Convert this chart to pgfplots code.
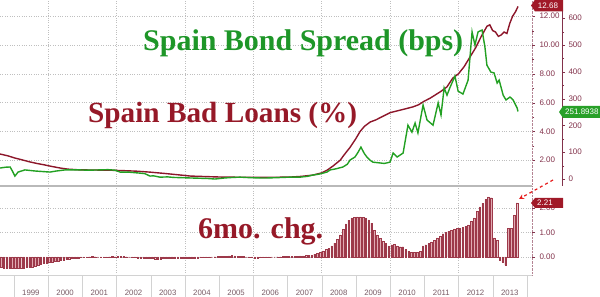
\documentclass[border=0pt]{standalone}
\usepackage{pgfplots}
\pgfplotsset{compat=1.18}
\usepackage{pgfplotstable}
\usepackage{fontspec}
\setmainfont{Liberation Sans}
\newfontfamily\titlefont{Liberation Serif}
\usetikzlibrary{arrows.meta}

\definecolor{loanred}{RGB}{140,22,42}
\definecolor{spgreen}{RGB}{34,160,34}
\definecolor{titlegreen}{RGB}{30,150,40}
\definecolor{titlered}{RGB}{150,25,40}
\definecolor{labred}{RGB}{130,50,75}
\definecolor{boxred}{RGB}{160,25,40}
\definecolor{boxgreen}{RGB}{40,160,40}
\definecolor{barfill}{RGB}{225,170,178}
\definecolor{yrgray}{RGB}{120,90,100}
\definecolor{arrred}{RGB}{230,30,30}

% 6-month change in bad loans, monthly from Aug 1998 to Sep 2013
\pgfplotstableread[row sep=\\]{
d\\
-0.42\\-0.44\\-0.45\\-0.46\\-0.45\\-0.44\\-0.44\\-0.45\\-0.44\\-0.43\\-0.42\\-0.41\\
-0.38\\-0.33\\-0.30\\-0.27\\-0.25\\
-0.22\\-0.20\\-0.18\\-0.16\\-0.14\\-0.12\\
-0.09\\-0.07\\-0.05\\-0.04\\-0.03\\-0.02\\
-0.02\\-0.01\\0.01\\0.02\\0.01\\0\\-0.01\\-0.02\\-0.01\\0.01\\0.02\\0.01\\
0.02\\0.03\\0.02\\0.01\\0\\-0.01\\-0.02\\-0.03\\-0.04\\-0.05\\-0.06\\-0.06\\
-0.06\\-0.07\\-0.07\\-0.07\\-0.06\\-0.06\\-0.06\\-0.05\\-0.05\\-0.05\\-0.05\\-0.04\\
-0.04\\-0.04\\-0.03\\-0.03\\-0.03\\-0.02\\-0.02\\-0.01\\-0.01\\0\\0.01\\0.02\\
0.02\\0.03\\0.04\\0.05\\0.06\\0.05\\0.04\\0.03\\0.02\\0\\-0.01\\-0.02\\
-0.03\\-0.03\\-0.02\\-0.02\\-0.01\\-0.01\\0\\0\\0.01\\0.01\\0.02\\0.03\\
0.03\\0.03\\0.04\\0.04\\0.05\\0.05\\0.06\\0.07\\0.08\\0.12\\0.16\\0.20\\
0.25\\0.30\\0.36\\0.45\\0.57\\0.72\\0.90\\1.12\\1.35\\1.50\\1.60\\1.63\\
1.64\\1.64\\1.62\\1.60\\1.52\\1.38\\1.10\\0.90\\0.75\\0.65\\0.57\\0.45\\
0.50\\0.53\\0.45\\0.42\\0.42\\0.30\\0.24\\0.20\\0.18\\0.20\\0.22\\0.45\\
0.50\\0.55\\0.62\\0.69\\0.78\\0.85\\0.95\\1.00\\1.05\\1.10\\1.15\\1.18\\
1.18\\1.20\\1.25\\1.31\\1.45\\1.60\\1.85\\2.05\\2.20\\2.35\\2.45\\2.42\\
0.78\\0.69\\-0.12\\-0.20\\-0.33\\1.18\\1.18\\1.71\\2.21\\
}\chgtable

\begin{document}
\begin{tikzpicture}
\useasboundingbox (0,0) rectangle (600pt,297pt);
\clip (0,0) rectangle (600pt,297pt);

% ---------- top panel: bad loans (%) ----------
\begin{axis}[
  at={(0pt,111pt)}, anchor=south west, scale only axis,
  width=532pt, height=186pt,
  xmin=7.16, xmax=193.8, ymin=0.21, ymax=13.125,
  axis x line*=bottom, axis y line*=right,
  x axis line style={gray!55, line width=1.4pt, -},
  y axis line style={labred!60, densely dotted, -},
  xtick={24,48,...,168}, xticklabels={}, xtick style={draw=none},
  xmajorgrids, ymajorgrids,
  grid style={gray!50, dotted},
  ytick={2,4,...,12}, minor y tick num=1,
  tick align=outside,
  ytick style={labred},
  major tick length=3pt, minor tick length=2pt,
  yticklabel style={font=\fontsize{8}{8}\selectfont, text=labred, xshift=1pt},
  /pgf/number format/fixed, /pgf/number format/fixed zerofill,
  /pgf/number format/precision=2, /pgf/number format/assume math mode=true,
]
\addplot[loanred, line width=1.4pt] coordinates {
(7.2,2.43) (10,2.3) (12.4,2.15) (15,2.02) (17.7,1.88) (20,1.78) (22.9,1.67)
(25,1.58) (28.2,1.46) (31,1.38) (35,1.33) (40,1.32) (45,1.31) (50,1.28)
(55,1.24) (60,1.17) (65,1.08) (70,0.98) (74,0.9) (80,0.86) (85,0.83)
(90,0.82) (95,0.82) (100,0.81) (105,0.82) (109,0.83) (113,0.88) (117,0.97)
(120,1.12) (122,1.32) (124,1.6) (126.5,2.0) (128,2.4) (130,2.9) (132,3.5)
(133.5,4.0) (135,4.35) (137,4.65) (139,4.8) (140.5,4.95) (142,5.1) (144,5.3)
(146,5.4) (148,5.5) (150,5.6) (152,5.7) (154,5.85) (156,6.1) (158,6.3)
(160,6.55) (162,6.8) (164,7.1) (166,7.7) (168,8.0) (170,8.5) (172,9.15)
(174,9.8) (176,10.6) (178,11.3) (179,11.4) (180,11.0) (181,10.9) (182,10.6)
(183,10.7) (184,10.9) (185,10.8) (186,11.5) (187,12.0) (188,12.3) (188.9,12.68)
};
\end{axis}

% ---------- top panel: bond spread (bps) ----------
\begin{axis}[
  at={(0pt,111pt)}, anchor=south west, scale only axis,
  width=562pt, height=186pt,
  xmin=7.16, xmax=204.35, ymin=-26, ymax=668,
  axis x line=none, axis y line*=right,
  y axis line style={labred, -},
  ytick={0,100,...,600}, minor y tick num=1,
  tick align=outside, ytick style={labred},
  major tick length=3pt, minor tick length=2pt,
  yticklabel style={font=\fontsize{8}{8}\selectfont, text=labred},
  /pgf/number format/assume math mode=true,
]
\addplot[spgreen, line width=1.4pt] coordinates {
(7.2,41) (9,44) (10.7,45) (11.5,30) (12.4,11) (13.5,26) (15.9,34) (19.4,30)
(22,28) (24.7,26) (27,30) (30,34) (35.2,34) (38,33) (42.2,34) (45,35)
(47.5,33) (49.3,26) (52,26) (56.3,22) (58,20) (59.8,11) (61,12) (63.3,7)
(66,8) (68,6) (71,5) (73.8,4) (77,3) (80,2) (82.6,0) (86,4) (89,6)
(91.4,7) (95,5) (98.4,4) (101,4) (104,5) (108.9,7) (112.4,7) (115,10)
(117,15) (119,18) (121.9,26) (123,34) (125,38) (127.5,45) (129,55) (130,71)
(131.7,82) (132.8,100) (133.8,119) (135,95) (135.9,82) (137,70) (138,63)
(140.5,60) (142,58) (144,63) (145.1,97) (146.5,82) (148.6,97) (150.3,201)
(151.7,175) (152.8,209) (153.8,172) (155.6,276) (157,220) (159.1,201)
(160.9,284) (161.9,239) (163,340) (164,313) (165.1,343) (166.8,384)
(167.9,328) (169.6,317) (171.4,369) (172.8,549) (173.8,500) (174.9,549)
(176.3,556) (177.3,493) (178,425) (179.4,399) (180.5,396) (181.6,358)
(182.3,369) (183.7,313) (184.7,295) (186.1,306) (187.2,295) (188.6,265)
(188.9,252)
};
\end{axis}

% ---------- bottom panel: 6mo. change ----------
\begin{axis}[
  at={(0pt,22pt)}, anchor=south west, scale only axis,
  width=532pt, height=87pt,
  xmin=7.16, xmax=193.8, ymin=-0.735, ymax=2.816,
  axis x line*=bottom, axis y line*=right,
  x axis line style={gray!35, -},
  y axis line style={labred!60, densely dotted, -},
  xtick={6,18,...,186},
  xticklabels={1998,1999,2000,2001,2002,2003,2004,2005,2006,2007,2008,2009,2010,2011,2012,2013},
  xtick style={draw=none},
  xticklabel style={font=\fontsize{7.8}{7.8}\selectfont, text=yrgray, anchor=center, yshift=-15pt},
  minor xtick={24,48,...,168}, xminorgrids,
  extra x ticks={0,12,...,192}, extra x tick labels={},
  extra x tick style={major tick length=22pt, xtick style={draw=gray!35}, grid=none},
  ytick={0,1,2}, ymajorgrids,
  grid style={gray!50, dotted},
  minor grid style={gray!50, dotted},
  tick align=outside, ytick style={labred},
  major tick length=3pt, minor tick length=0pt,
  yticklabel style={font=\fontsize{8}{8}\selectfont, text=labred, xshift=1pt},
  /pgf/number format/fixed, /pgf/number format/fixed zerofill,
  /pgf/number format/precision=2, /pgf/number format/assume math mode=true,
]
\addplot[ybar, bar width=0.55, fill=barfill, draw=loanred!85, line width=0.35pt]
  table[x expr=\coordindex+7.5, y=d] {\chgtable};
\end{axis}

% ---------- titles ----------
\node[anchor=base west, inner sep=0, text=titlegreen] at (143pt,246pt)
  {\resizebox{320pt}{!}{\titlefont\bfseries Spain Bond Spread (bps)}};
\node[anchor=base west, inner sep=0, text=titlered] at (88pt,174pt)
  {\resizebox{269pt}{!}{\titlefont\bfseries Spain Bad Loans (\%)}};
\node[anchor=base west, inner sep=0, text=titlered] at (198pt,58pt)
  {\resizebox{125pt}{!}{\titlefont\bfseries 6mo. chg.}};

% ---------- last-value boxes ----------
\fill[boxred] (531pt,291.5pt) -- (535pt,297.5pt) -- (563pt,297.5pt) -- (563pt,285.5pt) -- (535pt,285.5pt) -- cycle;
\node[text=white, font=\fontsize{8}{8}\selectfont] at (548pt,291.5pt) {12.68};
\fill[boxgreen] (559pt,185pt) -- (563pt,191pt) -- (601pt,191pt) -- (601pt,179pt) -- (563pt,179pt) -- cycle;
\node[text=white, anchor=west, inner sep=0, font=\fontsize{8}{8}\selectfont] at (565pt,185pt) {251.8938};
\fill[boxred] (531pt,94pt) -- (535pt,99pt) -- (563pt,99pt) -- (563pt,89pt) -- (535pt,89pt) -- cycle;
\node[text=white, font=\fontsize{8}{8}\selectfont] at (545pt,94pt) {2.21};

% ---------- pointer arrow ----------
\draw[arrred, dashed, line width=1.2pt, -{Stealth[length=5pt,width=5pt]}] (553pt,117pt) -- (519pt,98pt);
\end{tikzpicture}
\end{document}
